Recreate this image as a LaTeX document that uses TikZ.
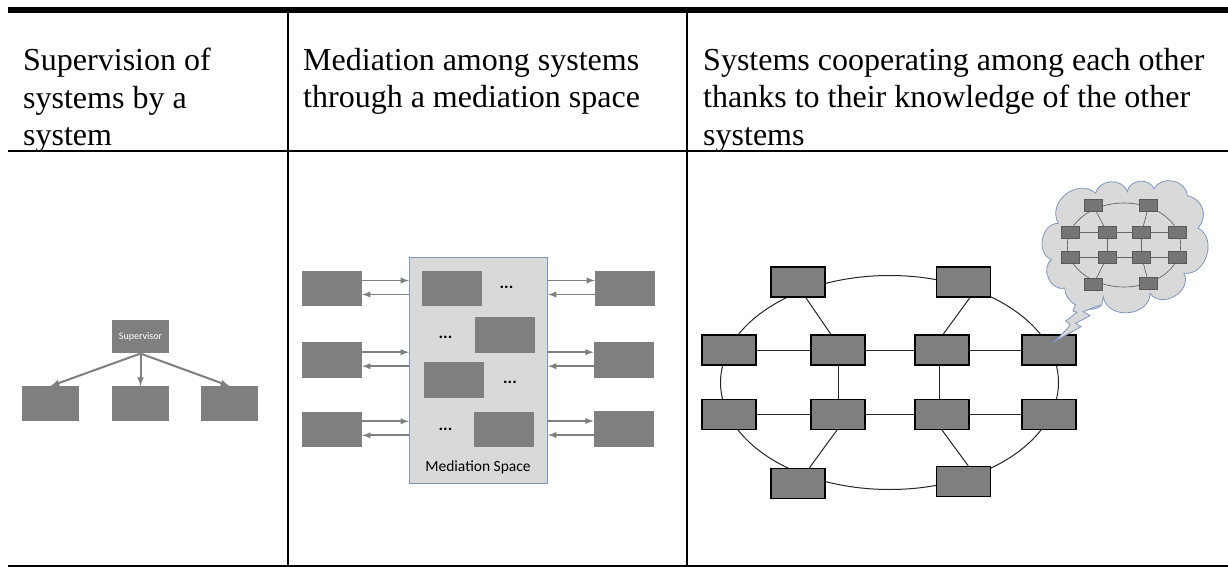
\documentclass[tikz,border=0pt]{standalone}
\usepackage{fontspec}
\setmainfont{Liberation Serif}
\newfontfamily\slidefont{Carlito}
\usetikzlibrary{positioning}
\definecolor{boxgray}{HTML}{7F7F7F}
\definecolor{spacegray}{HTML}{D9D9D9}
\definecolor{cloudline}{HTML}{7F96BE}
\tikzset{
	cell/.style={anchor=north west,inner sep=0pt,align=left,font=\fontsize{32}{37.5}\selectfont},
	sysbox/.style={fill=boxgray,draw=none,minimum width=57pt,minimum height=34.5pt,inner sep=0pt},
	medbox/.style={sysbox,minimum width=60pt,minimum height=35.5pt},
	netbox/.style={fill=boxgray,draw=black,line width=1.1pt,minimum width=54pt,minimum height=30pt,inner sep=0pt},
	minibox/.style={fill=boxgray!92!black,draw=black!65,line width=.7pt,minimum width=18pt,minimum height=12pt,inner sep=0pt},
	arr/.style={draw=boxgray,line width=1.8pt,-latex},
	netline/.style={black!85,line width=1pt},
	miniline/.style={black!60,line width=.7pt},
	dots/.style={font=\slidefont\bfseries\fontsize{17}{17}\selectfont,inner sep=0pt}
}
\begin{document}
\begin{tikzpicture}[x=1pt,y=-1pt]
	\useasboundingbox (0,0) rectangle (1228,567);
	% Tabelle
	\coordinate (tl) at (8,10);
	\coordinate (tr) at (1228,10);
	\coordinate (ml) at (8,150.5);
	\coordinate (mr) at (1228,150.5);
	\coordinate (bl) at (8,566);
	\coordinate (br) at (1228,566);
	\coordinate (va) at (288,10);
	\coordinate (vb) at (687,10);
	\draw[line width=2pt] (va) -- (va |- bl);
	\draw[line width=2pt] (vb) -- (vb |- bl);
	\draw[line width=6pt] (tl) -- (tr);
	\draw[line width=2pt] (ml) -- (mr);
	\draw[line width=2pt] (bl) -- (br);
	\node[cell] (heada) at (23,48) {Supervision of\\systems by a\\system};
	\node[cell] (headb) at (303,48) {Mediation among systems\\through a mediation space};
	\node[cell] (headc) at (703,48) {Systems cooperating among each other\\thanks to their knowledge of the other\\systems};
	% erste Spalte
	\node[sysbox,minimum height=33.3pt,font=\slidefont\fontsize{10}{10}\selectfont,text=white] (sup) at (140.5,336.7) {Supervisor};
	\foreach \name/\x in {suba/50.5,subb/140.5,subc/229.5}
		\node[sysbox] (\name) at (\x,403.5) {};
	\foreach \name in {suba,subb,subc}
		\draw[arr,line width=2pt] (sup.south) -- (\name.north);
	% zweite Spalte
	\node[fill=spacegray,draw=cloudline,line width=.8pt,minimum width=138.5pt,minimum height=226pt,inner sep=0pt] (space) at (478.5,370.3) {};
	\node[font=\slidefont\fontsize{15.5}{15.5}\selectfont,inner sep=0pt] (spacetext) at (478,467) {Mediation Space};
	\foreach \name/\x/\y in {inna/451.5/288.5,innb/505/334.8,innc/453.5/380.2,innd/504/429.7}
		\node[medbox] (\name) at (\x,\y) {};
	\foreach \name/\x/\y in {dota/506.5/287,dotb/445.5/337,dotc/510/382.5,dotd/445.5/429}
		\node[dots] (\name) at (\x,\y) {...};
	\foreach \name/\y in {lefta/288.5,leftb/360.2,leftc/429.3}
	{
		\node[medbox] (\name) at (332,\y) {};
		\draw[arr] ([yshift=8pt]\name.east) -- ([yshift=8pt]\name.east -| space.west);
		\draw[arr] ([yshift=-6pt]\name.east -| space.west) -- ([yshift=-6pt]\name.east);
	}
	\foreach \name/\x/\y in {righta/625/288.5,rightb/623.7/360.2,rightc/623.7/429}
	{
		\node[medbox] (\name) at (\x,\y) {};
		\draw[arr] ([yshift=8pt]\name.west -| space.east) -- ([yshift=8pt]\name.west);
		\draw[arr] ([yshift=-6pt]\name.west) -- ([yshift=-6pt]\name.west -| space.east);
	}
	% dritte Spalte: Ring und Systeme
	\draw[netline] (889.5,382.5) ellipse (169 and 107);
	\foreach \name/\x/\y in {neta/798/282,netb/963.3/282,
		netc/729/350,netd/838/350,nete/942/350,netf/1049/350,
		netg/729/414.5,neth/838/414.5,neti/942/414.5,netj/1049/414.5,
		netk/798/483.5,netl/963.3/481.5}
		\node[netbox] (\name) at (\x,\y) {};
	\foreach \a/\b in {netc/netd,netd/nete,nete/netf,netg/neth,neth/neti,neti/netj,netd/neth}
		\draw[netline] (\a) -- (\b);
	\draw[netline] ([xshift=-2.7pt]nete.south) -- ([xshift=-2.7pt]neti.north);
	\draw[netline] ([xshift=7.7pt]neta.south) -- ([xshift=-7pt]netd.north);
	\draw[netline] ([xshift=6.7pt]netb.south) -- ([xshift=1pt]nete.north);
	\draw[netline] ([xshift=-1pt]neth.south) -- ([xshift=11.3pt]netk.north);
	\draw[netline] (neti.south) -- ([xshift=5pt]netl.north);
	% Wolke
	\draw[fill=spacegray,draw=cloudline,line width=.8pt]
		(1095.7,193.3) to[bend left=75,looseness=1.2] (1127.3,191.7)
		to[bend left=75,looseness=1.2] (1154,189)
		to[bend left=75,looseness=1.2] (1187.3,195.7)
		to[bend left=60,looseness=1.2] (1198,228)
		to[bend left=80,looseness=1.2] (1184,273.3)
		to[bend left=85,looseness=1.3] (1150,293.3)
		to[bend left=85,looseness=1.3] (1103.3,296.7)
		-- (1101.7,305)
		to[bend left=70] (1065,288)
		to[bend left=80,looseness=1.2] (1051.7,259.7)
		to[bend left=80,looseness=1.2] (1058.3,223.3)
		to[bend left=80,looseness=1.3] (1095.7,193.3)
		-- cycle;
	\draw[miniline] (1124,245) ellipse (56.7 and 42);
	\foreach \name/\x/\y in {mina/1093.3/205.7,minb/1148.7/205.7,
		minc/1070.7/232.3,mind/1107/232.3,mine/1141.7/232.3,minf/1177.3/232.3,
		ming/1070.7/257.3,minh/1107/257.3,mini/1141.7/257.3,minj/1177.3/257.3,
		mink/1093.3/284.3,minl/1148.7/283.3}
		\node[minibox] (\name) at (\x,\y) {};
	\foreach \a/\b in {minc/mind,mind/mine,mine/minf,ming/minh,minh/mini,mini/minj,mind/minh,mine/mini,mina/mind,minb/mine,minh/mink,mini/minl}
		\draw[miniline] (\a) -- (\b);
	% Blitz
	\draw[fill=spacegray,draw=cloudline,line width=.8pt]
		(1075.7,304.3) -- (1073,311) -- (1077,312.3) -- (1065.7,321) -- (1070,324.3) -- (1067.7,328.3) -- (1054.3,341.7)
		-- (1081,326.7) -- (1075.7,323.3) -- (1090,315.7) -- (1083.3,311.7) -- (1100,305);
\end{tikzpicture}
\end{document}
